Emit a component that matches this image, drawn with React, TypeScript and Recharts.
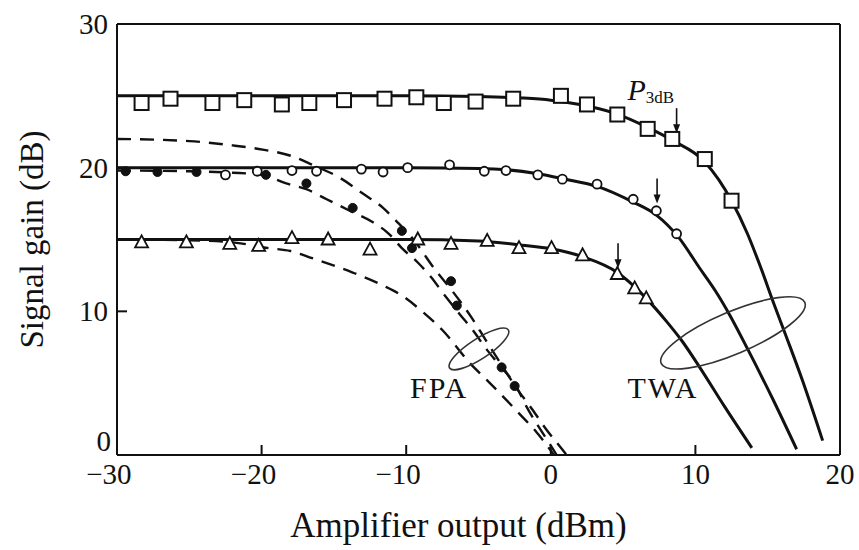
import React from 'react';
import { ComposedChart, Line, Scatter, XAxis, YAxis, ReferenceLine, ReferenceDot } from 'recharts';

type P = [number, number];

const xTicks = [-30, -20, -10, 0, 10, 20];
const yTicks = [0, 10, 20, 30];

// TWA fitted curves (solid)
const twa25Curve: P[] = [[-30, 25], [-20, 25], [-10, 25], [-5, 24.95], [-2, 24.85], [0, 24.7], [2, 24.4], [4.4, 23.8], [6.7, 22.8], [8.4, 21.9], [10.65, 20.4], [12.5, 17.7], [13.6, 15.4], [14.5, 13.1], [15.4, 10.6], [16.3, 8.2], [17.4, 5.2], [18.8, 1.0]];
const twa20Curve: P[] = [[-30, 20], [-20, 20], [-10, 20], [-5, 19.95], [-3, 19.85], [-1, 19.6], [1, 19.2], [3.2, 18.7], [5.7, 17.6], [7.3, 16.7], [8.8, 15.2], [10.3, 13.0], [11.4, 11.4], [12.4, 9.7], [13.6, 7.4], [15.3, 4.0], [17.0, 0.4]];
const twa15Curve: P[] = [[-30, 15], [-20, 15], [-10, 15], [-5, 14.9], [-2, 14.6], [0, 14.35], [2.2, 13.8], [4.6, 12.7], [5.8, 11.7], [6.6, 10.9], [8, 9.3], [9.1, 7.9], [10.3, 6.1], [12, 3.4], [13.9, 0.5]];

// FPA theoretical curves (dashed)
const fpa22Curve: P[] = [[-30, 22], [-25, 21.85], [-22, 21.55], [-20.2, 21.3], [-17.9, 20.8], [-16.5, 20.2], [-14.6, 19.3], [-13, 18.2], [-11.6, 17.2], [-10.7, 16.3], [-9.5, 15.0], [-8, 12.9], [-6.8, 11.4], [-5.5, 9.6], [-4.5, 8.0], [-3.3, 6.1], [-2.4, 4.7], [-1.3, 3.2], [-0.4, 1.9], [0.7, 0.5], [1.1, 0]];
const fpa20Curve: P[] = [[-30, 19.8], [-25, 19.75], [-22, 19.65], [-20, 19.5], [-18.3, 18.9], [-16.9, 18.5], [-15.5, 17.8], [-13.7, 16.9], [-12.3, 16.2], [-11.2, 15.4], [-10.3, 14.4], [-9.2, 13.4], [-8.3, 12.4], [-7.4, 11.2], [-6.3, 9.8], [-5.4, 8.7], [-4.4, 7.3], [-3.5, 6.2], [-2.4, 4.8], [-1.7, 3.4], [-0.8, 1.9], [0.1, 0.5], [0.4, 0]];
const fpa15Curve: P[] = [[-30, 15], [-25, 14.95], [-22, 14.8], [-19.5, 14.4], [-18, 14.2], [-16.5, 13.7], [-13.7, 12.7], [-11.6, 11.8], [-10.3, 11.1], [-8.9, 10.0], [-7.5, 8.7], [-5.6, 6.4], [-4.4, 5.2], [-2.2, 2.9], [-1, 1.6], [0, 0.3], [0.2, 0]];

// measured points
const squarePts: P[] = [[-28.3, 24.5], [-26.3, 24.8], [-23.4, 24.5], [-21.2, 24.7], [-18.6, 24.4], [-16.7, 24.5], [-14.3, 24.7], [-11.5, 24.8], [-9.3, 24.9], [-7.4, 24.5], [-5.2, 24.6], [-2.6, 24.8], [0.7, 25.0], [2.5, 24.4], [4.6, 23.7], [6.7, 22.7], [8.4, 22.0], [10.65, 20.6], [12.5, 17.7]];
const circlePts: P[] = [[-22.5, 19.5], [-20.3, 19.75], [-17.9, 19.8], [-16.2, 19.75], [-13.1, 19.9], [-11.6, 19.7], [-9.9, 20.0], [-7.0, 20.2], [-4.6, 19.75], [-3.1, 19.8], [-0.9, 19.5], [0.8, 19.2], [3.2, 18.85], [5.7, 17.8], [7.3, 17.0], [8.7, 15.4]];
const trianglePts: P[] = [[-28.3, 14.8], [-25.2, 14.8], [-22.2, 14.7], [-20.2, 14.55], [-17.9, 15.1], [-15.4, 15.0], [-12.5, 14.3], [-9.2, 15.0], [-6.9, 14.7], [-4.4, 14.9], [-2.2, 14.4], [0.05, 14.4], [2.2, 13.9], [4.6, 12.6], [5.8, 11.6], [6.6, 10.9]];
const dotPts: P[] = [[-29.4, 19.75], [-27.2, 19.7], [-24.5, 19.7], [-19.7, 19.5], [-16.9, 18.9], [-13.7, 17.2], [-10.3, 15.6], [-9.6, 14.4], [-6.9, 12.1], [-6.5, 10.4], [-3.4, 6.1], [-2.5, 4.8]];

// P3dB arrow tips
const arrowTips: P[] = [[8.7, 22.4], [7.35, 17.5], [4.65, 13.0]];

const toPts = (a: P[]) => a.map(([x, y]) => ({ x, y }));

const INK = '#111';
const SERIF = '"Liberation Serif", "Times New Roman", serif';

const XTick = (props: any) => {
  const { x, y, payload } = props;
  const v = payload.value as number;
  const label = v < 0 ? `\u2212${Math.abs(v)}` : `${v}`;
  const digits = String(Math.abs(v)).length;
  return (
    <g>
      {v > -30 && v < 20 && <line x1={x} x2={x} y1={y} y2={y - 10} stroke={INK} strokeWidth={2} />}
      <text x={x + digits * 7.3} y={y + 29} textAnchor="end" fontSize={29} fontFamily={SERIF} fill={INK}>{label}</text>
    </g>
  );
};

const YTick = (props: any) => {
  const { x, y, payload } = props;
  const v = payload.value as number;
  return (
    <g>
      {v > 0 && v < 30 && <line x1={x} x2={x + 10} y1={y} y2={y} stroke={INK} strokeWidth={2} />}
      <text x={v === 0 ? x - 6 : x - 9} y={v === 0 ? y - 14 : y} dy="0.35em" textAnchor="end" fontSize={29} fontFamily={SERIF} fill={INK}>{v}</text>
    </g>
  );
};

const SquareShape = (p: any) => (
  <rect x={p.cx - 7} y={p.cy - 7} width={14} height={14} fill="#fff" stroke={INK} strokeWidth={2} />
);
const CircleShape = (p: any) => (
  <circle cx={p.cx} cy={p.cy} r={4.5} fill="#fff" stroke={INK} strokeWidth={1.8} />
);
const TriangleShape = (p: any) => (
  <polygon points={`${p.cx},${p.cy - 7} ${p.cx - 6.5},${p.cy + 5} ${p.cx + 6.5},${p.cy + 5}`} fill="#fff" stroke={INK} strokeWidth={1.8} />
);
const DotShape = (p: any) => (
  <circle cx={p.cx} cy={p.cy} r={4.5} fill={INK} stroke={INK} strokeWidth={1} />
);

const ArrowShape = (p: any) => (
  <g>
    <line x1={p.cx} x2={p.cx} y1={p.cy - 25} y2={p.cy - 4} stroke={INK} strokeWidth={1.6} />
    <polygon points={`${p.cx - 3.5},${p.cy - 9} ${p.cx + 3.5},${p.cy - 9} ${p.cx},${p.cy}`} fill={INK} />
  </g>
);

const TwaEllipse = (p: any) => (
  <ellipse cx={p.cx} cy={p.cy} rx={78} ry={21} fill="none" stroke="#333" strokeWidth={1.6} transform={`rotate(-23 ${p.cx} ${p.cy})`} />
);
const FpaEllipse = (p: any) => (
  <ellipse cx={p.cx} cy={p.cy} rx={35} ry={10} fill="none" stroke="#333" strokeWidth={1.6} transform={`rotate(-33 ${p.cx} ${p.cy})`} />
);

const TextAt = (txt: string) => (p: any) => (
  <text x={p.cx} y={p.cy} fontSize={30} letterSpacing={2} fontFamily={SERIF} fill={INK}>{txt}</text>
);
const P3dbLabel = (p: any) => (
  <text x={p.cx} y={p.cy} fontSize={30} fontFamily={SERIF} fill={INK}>
    <tspan fontStyle="italic">P</tspan>
    <tspan fontSize={17} dy={3}>3dB</tspan>
  </text>
);

export default function App() {
  return (
    <div style={{ position: 'absolute', left: 0, top: 0, width: 859, height: 550, background: '#fff' }}>
      <ComposedChart width={859} height={550} margin={{ top: 24, right: 19, bottom: 0, left: 0 }}>
        <XAxis
          type="number"
          dataKey="x"
          domain={[-30, 20]}
          ticks={xTicks}
          allowDataOverflow
          height={95}
          tickSize={0}
          tickMargin={0}
          tickLine={false}
          axisLine={{ stroke: INK, strokeWidth: 2 }}
          tick={<XTick />}
          label={{ value: 'Amplifier output (dBm)', position: 'insideBottom', offset: 13, dx: -20, fontSize: 35, fontFamily: SERIF, fill: INK }}
        />
        <YAxis
          type="number"
          domain={[0, 30]}
          ticks={yTicks}
          allowDataOverflow
          width={117}
          tickSize={0}
          tickMargin={0}
          tickLine={false}
          axisLine={{ stroke: INK, strokeWidth: 2 }}
          tick={<YTick />}
          label={{ value: 'Signal gain (dB)', angle: -90, position: 'insideLeft', offset: 31, fontSize: 33, fontFamily: SERIF, fill: INK, style: { textAnchor: 'middle' } }}
        />
        <ReferenceLine y={30} stroke={INK} strokeWidth={2} ifOverflow="visible" />
        <ReferenceLine x={20} stroke={INK} strokeWidth={2} ifOverflow="visible" />

        <Line data={toPts(fpa22Curve)} dataKey="y" type="monotone" stroke={INK} strokeWidth={2.4} strokeDasharray="14 9" dot={false} isAnimationActive={false} />
        <Line data={toPts(fpa20Curve)} dataKey="y" type="monotone" stroke={INK} strokeWidth={2.4} strokeDasharray="14 9" dot={false} isAnimationActive={false} />
        <Line data={toPts(fpa15Curve)} dataKey="y" type="monotone" stroke={INK} strokeWidth={2.4} strokeDasharray="14 9" dot={false} isAnimationActive={false} />
        <Line data={toPts(twa25Curve)} dataKey="y" type="monotone" stroke={INK} strokeWidth={3} dot={false} isAnimationActive={false} />
        <Line data={toPts(twa20Curve)} dataKey="y" type="monotone" stroke={INK} strokeWidth={3} dot={false} isAnimationActive={false} />
        <Line data={toPts(twa15Curve)} dataKey="y" type="monotone" stroke={INK} strokeWidth={3} dot={false} isAnimationActive={false} />

        <Scatter data={toPts(dotPts)} dataKey="y" shape={DotShape} isAnimationActive={false} />
        <Scatter data={toPts(squarePts)} dataKey="y" shape={SquareShape} isAnimationActive={false} />
        <Scatter data={toPts(circlePts)} dataKey="y" shape={CircleShape} isAnimationActive={false} />
        <Scatter data={toPts(trianglePts)} dataKey="y" shape={TriangleShape} isAnimationActive={false} />

        {arrowTips.map(([x, y], i) => (
          <ReferenceDot key={`a${i}`} x={x} y={y} r={0} ifOverflow="visible" shape={ArrowShape} />
        ))}
        <ReferenceDot x={12.6} y={8.5} r={0} ifOverflow="visible" shape={TwaEllipse} />
        <ReferenceDot x={-4.97} y={7.38} r={0} ifOverflow="visible" shape={FpaEllipse} />
        <ReferenceDot x={-9.74} y={3.97} r={0} ifOverflow="visible" shape={TextAt('FPA')} />
        <ReferenceDot x={5.3} y={3.97} r={0} ifOverflow="visible" shape={TextAt('TWA')} />
        <ReferenceDot x={5.3} y={24.7} r={0} ifOverflow="visible" shape={P3dbLabel} />
      </ComposedChart>
    </div>
  );
}
